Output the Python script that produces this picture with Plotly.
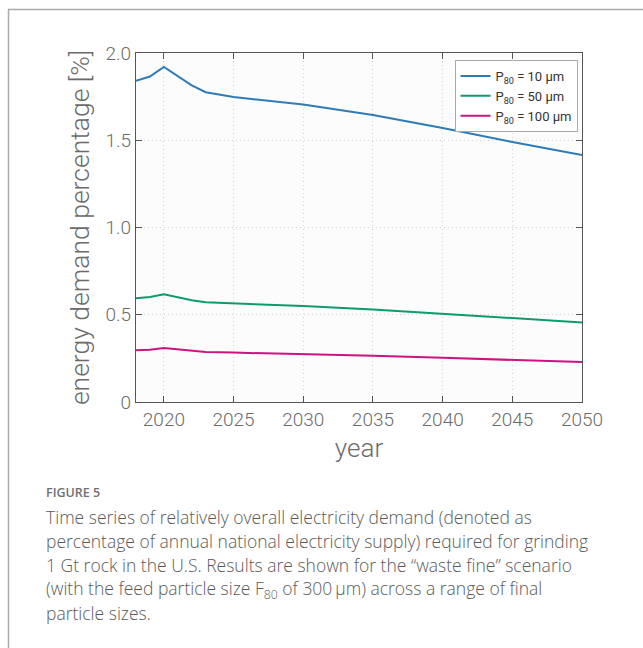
import plotly.graph_objects as go

years = [2018, 2019, 2020, 2021, 2022, 2023, 2025, 2030, 2035, 2040, 2045, 2050]
p10 = [1.84, 1.865, 1.92, 1.87, 1.815, 1.775, 1.748, 1.705, 1.645, 1.57, 1.49, 1.415]
p50 = [0.594, 0.602, 0.618, 0.60, 0.583, 0.571, 0.565, 0.550, 0.530, 0.507, 0.481, 0.456]
p100 = [0.296, 0.300, 0.309, 0.300, 0.291, 0.286, 0.283, 0.275, 0.265, 0.253, 0.241, 0.229]
names = ["P<sub>80</sub> = 10 μm", "P<sub>80</sub> = 50 μm", "P<sub>80</sub> = 100 μm"]
colors = ["#2e7bb6", "#0d9b6a", "#cc1480"]
xticks = [2020, 2025, 2030, 2035, 2040, 2045, 2050]
yticks = [0, 0.5, 1.0, 1.5, 2.0]
ytick_labels = ["0", "0.5", "1.0", "1.5", "2.0"]

W, H = 643, 648
L, R, T, B = 136, 61, 53, 246
FONT = "Roboto"
GREY = "#6b6b6b"

fig = go.Figure()
for ys, n, c in zip([p10, p50, p100], names, colors):
    fig.add_trace(go.Scatter(x=years, y=ys, mode="lines", name=n,
                             line=dict(color=c, width=2)))

axis_common = dict(showline=True, linecolor="#555555", linewidth=1.2, mirror="ticks",
                   ticks="inside", ticklen=6, tickcolor="#555555",
                   showgrid=True, gridcolor="#d4d4d4", griddash="1px,3px", gridwidth=1,
                   zeroline=False,
                   tickfont=dict(family=FONT, size=19, color=GREY, weight=300))

fig.update_xaxes(range=[2018, 2050], tickvals=xticks,
                 title=dict(text="year", font=dict(family=FONT, size=26, color=GREY, weight=300),
                            standoff=8),
                 **axis_common)
fig.update_yaxes(range=[0, 2.0], tickvals=yticks, ticktext=ytick_labels,
                 title=dict(text="energy demand percentage [%]",
                            font=dict(family=FONT, size=26.5, color=GREY, weight=300), standoff=8),
                 **axis_common)

fig.update_layout(
    width=W, height=H,
    margin=dict(l=L, r=R, t=T, b=B),
    paper_bgcolor="white", plot_bgcolor="#fcfcfc",
    showlegend=True,
    legend=dict(x=0.99, y=0.98, xanchor="right", yanchor="top",
                bgcolor="white", bordercolor="#aaaaaa", borderwidth=1,
                font=dict(family=FONT, size=13, color="#333333"),
                tracegroupgap=0, itemwidth=30),
)

pw, ph = W - L - R, H - T - B
def px(x):
    return (x - L) / pw
def py(y):
    return (H - B - y) / ph

# frame lines
fig.add_shape(type="line", xref="paper", yref="paper", x0=px(8), x1=px(643), y0=py(9.5), y1=py(9.5),
              line=dict(color="#aaaaaa", width=1.5))
fig.add_shape(type="line", xref="paper", yref="paper", x0=px(8.5), x1=px(8.5), y0=py(9.5), y1=py(648),
              line=dict(color="#aaaaaa", width=1.5))

fig.add_annotation(xref="paper", yref="paper", x=px(44), y=py(492), xanchor="left", yanchor="middle",
                   text="FIGURE 5", showarrow=False,
                   font=dict(family="Open Sans", size=12.5, color="#707070", weight=600))
caption = [
    "Time series of relatively overall electricity demand (denoted as",
    "percentage of annual national electricity supply) required for grinding",
    "1 Gt rock in the U.S. Results are shown for the \u201cwaste fine\u201d scenario",
    "(with the feed particle size F<sub>80</sub> of 300\u2009\u03bcm) across a range of final",
    "particle sizes.",
]
for i, line in enumerate(caption):
    fig.add_annotation(xref="paper", yref="paper", x=px(44), y=py(517 + 24 * i),
                       xanchor="left", yanchor="middle", text=line, showarrow=False,
                       font=dict(family="Open Sans", size=17.5, color="#5a5a5a", weight=300))

fig.write_html("out.html", config={"displayModeBar": False})
with open("out.html", encoding="utf-8") as f:
    html = f.read()
html = html.replace("<body>", "<body style=\"margin:0;padding:0;\">", 1)
with open("out.html", "w", encoding="utf-8") as f:
    f.write(html)
